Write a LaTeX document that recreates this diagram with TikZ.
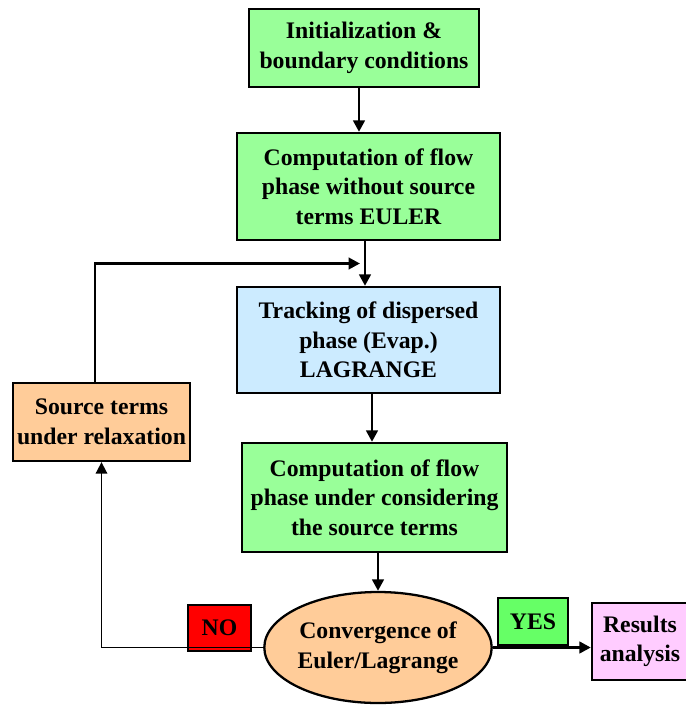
\documentclass[tikz,border=0pt]{standalone}
\usepackage{fontspec}
\setmainfont{Liberation Serif}
\usetikzlibrary{arrows.meta}
\usetikzlibrary{shapes.geometric}
\usetikzlibrary{calc}
\definecolor{stepgreen}{HTML}{99FF99}
\definecolor{lagblue}{HTML}{CCEBFF}
\definecolor{srcorange}{HTML}{FFCC99}
\definecolor{nored}{HTML}{FF0000}
\definecolor{yesgreen}{HTML}{66FF66}
\definecolor{respink}{HTML}{FFCCFF}

\begin{document}
\begin{tikzpicture}[
			box/.style={draw, line width=1.3pt, align=center, inner sep=0pt, font=\bfseries\fontsize{13.5}{16.8}\selectfont},
			flow/.style={line width=1.7pt, -{Triangle[width=6.5pt,length=6.5pt]}},
		]
			\useasboundingbox (0,0) rectangle (13.72,-14.1);
			\node[box, fill=stepgreen, minimum width=4.6cm, minimum height=1.56cm] (init) at (7.28,-0.96) {Initialization \&\\boundary conditions};
			\node[box, fill=stepgreen, minimum width=5.26cm, minimum height=2.14cm] (euler) at (7.37,-3.73) {Computation of flow\\phase without source\\terms EULER};
			\node[box, fill=lagblue, minimum width=5.26cm, minimum height=2.12cm] (lagr) at (7.37,-6.8) {Tracking of dispersed\\phase (Evap.)\\LAGRANGE};
			\node[box, fill=srcorange, minimum width=3.54cm, minimum height=1.56cm] (source) at (2.03,-8.44) {Source terms\\under relaxation};
			\node[box, fill=stepgreen, minimum width=5.3cm, minimum height=2.18cm] (coupled) at (7.49,-9.95) {Computation of flow\\phase under considering\\the source terms};
			\node[box, ellipse, fill=srcorange, minimum width=4.36cm, minimum height=2.22cm] (conv) at (7.56,-12.95) {Convergence of\\Euler/Lagrange};
			\node[box, fill=nored, minimum width=1.26cm, minimum height=0.92cm] (no) at (4.39,-12.56) {NO};
			\node[box, fill=yesgreen, minimum width=1.4cm, minimum height=0.94cm] (yes) at (10.66,-12.43) {YES};
			\node[box, fill=respink, minimum width=1.92cm, minimum height=1.54cm] (res) at (12.8,-12.83) {Results\\analysis};
			\draw[flow] ([xshift=-1mm]init.south) -- ([xshift=-1mm]init.south |- euler.north);
			\draw[flow] ([xshift=-0.7mm]euler.south) -- ([xshift=-0.7mm]euler.south |- lagr.north);
			\draw[flow] ([xshift=0.7mm]lagr.south) -- ([xshift=0.7mm]lagr.south |- coupled.north);
			\draw[flow] ([xshift=0.7mm]coupled.south) -- ([xshift=0.7mm]coupled.south |- conv.north);
			\draw[flow] ([xshift=-1.3mm]source.north) |- ([xshift=-1.7mm]$(euler.south)!0.5!(lagr.north)$);
			\draw[flow, line width=1pt] (conv.west) -| (source.south);
			\draw[flow, line width=2.2pt] (conv.east) -- (conv.east -| res.west);
		\end{tikzpicture}
\end{document}
